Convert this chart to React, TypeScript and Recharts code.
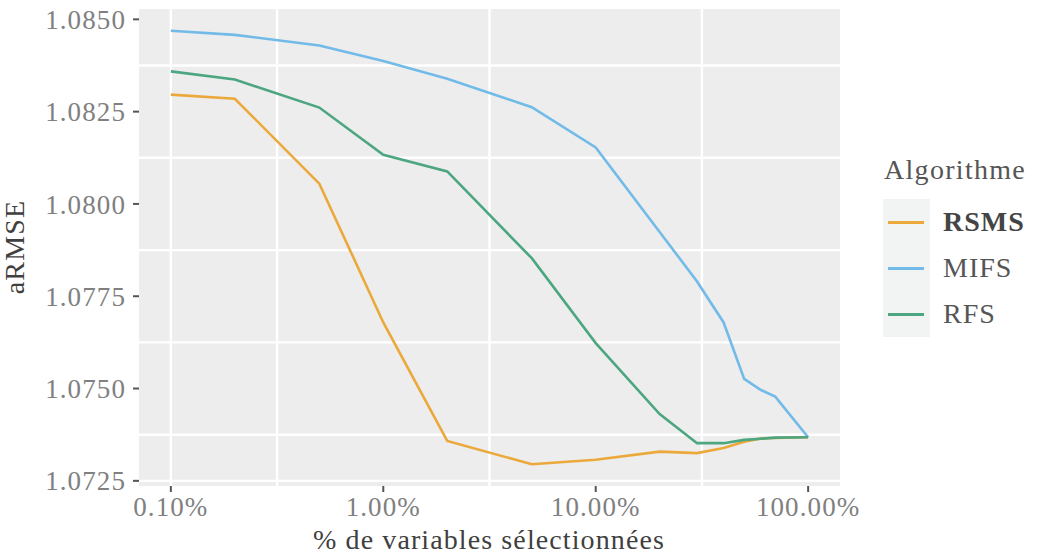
import { LineChart, Line, XAxis, YAxis, CartesianGrid } from "recharts";

// % of selected variables (log x axis)
const pct = [0.1, 0.2, 0.5, 1, 2, 5, 10, 20, 30, 40, 50, 60, 70, 100];

// aRMSE per algorithm
const rsms = [1.08296, 1.08285, 1.08055, 1.07679, 1.07358, 1.07295, 1.07307, 1.07329, 1.07325, 1.07339, 1.07356, 1.07365, 1.07366, 1.07368];
const mifs = [1.08469, 1.08458, 1.08429, 1.08387, 1.08339, 1.08262, 1.08153, 1.07924, 1.0779, 1.07679, 1.07526, 1.07496, 1.07478, 1.07368];
const rfs = [1.08359, 1.08337, 1.08261, 1.08133, 1.08088, 1.07853, 1.07623, 1.07431, 1.07352, 1.07352, 1.07361, 1.07364, 1.07367, 1.07368];

const xTicks = [0.1, 1, 10, 100];
const xMinor = [0.316228, 3.16228, 31.6228];
const yTicks = [1.0725, 1.075, 1.0775, 1.08, 1.0825, 1.085];
const yMinor = [1.07375, 1.07625, 1.07875, 1.08125, 1.08375];

const series = [
  { key: "RSMS", values: rsms, color: "#EBA93B", bold: true },
  { key: "MIFS", values: mifs, color: "#72BBE8", bold: false },
  { key: "RFS", values: rfs, color: "#4CA680", bold: false },
];

const data = pct.map((p, i) => ({
  pct: p,
  RSMS: rsms[i],
  MIFS: mifs[i],
  RFS: rfs[i],
}));

const FONT = '"Liberation Serif", "DejaVu Serif", serif';
const tickStyle = { fontSize: 27, fill: "#808080", fontFamily: FONT, letterSpacing: 1.1 };

export default function App() {
  return (
    <div style={{ position: "absolute", left: 0, top: 0, width: 1038, height: 556, background: "#fff", fontFamily: FONT }}>
      <LineChart width={1038} height={556} data={data} margin={{ top: 9, right: 198, bottom: 40, left: 0 }}>
        <CartesianGrid
          fill="#ededed"
          stroke="#ffffff"
          strokeWidth={2.4}
          horizontalValues={[...yTicks, ...yMinor]}
          verticalValues={[...xTicks, ...xMinor]}
        />
        <XAxis
          dataKey="pct"
          type="number"
          scale="log"
          domain={[0.0708, 141.25]}
          allowDataOverflow
          ticks={xTicks}
          tickFormatter={(v: number) => v.toFixed(2) + "%"}
          axisLine={false}
          tickLine={{ stroke: "#555", strokeWidth: 2 }}
          tickSize={6}
          tickMargin={5}
          height={30}
          tick={tickStyle}
        />
        <YAxis
          type="number"
          domain={[1.07236, 1.08528]}
          allowDataOverflow
          ticks={yTicks}
          tickFormatter={(v: number) => v.toFixed(4)}
          axisLine={false}
          tickLine={{ stroke: "#555", strokeWidth: 2 }}
          tickSize={6}
          tickMargin={7}
          width={139}
          tick={tickStyle}
        />
        {series.map((s) => (
          <Line
            key={s.key}
            dataKey={s.key}
            type="linear"
            stroke={s.color}
            strokeWidth={2.6}
            dot={false}
            isAnimationActive={false}
          />
        ))}
      </LineChart>

      {/* axis titles */}
      <div
        style={{
          position: "absolute",
          left: 15,
          top: 247,
          transform: "translate(-50%, -50%) rotate(-90deg)",
          fontSize: 28,
          letterSpacing: 1.2,
          color: "#404040",
          whiteSpace: "nowrap",
        }}
      >
        aRMSE
      </div>
      <div
        style={{
          position: "absolute",
          left: 489,
          top: 540,
          transform: "translate(-50%, -50%)",
          fontSize: 28,
          letterSpacing: 1.1,
          color: "#404040",
          whiteSpace: "nowrap",
        }}
      >
        % de variables sélectionnées
      </div>

      {/* legend */}
      <div style={{ position: "absolute", left: 884, top: 154, fontSize: 28, letterSpacing: 1.3, color: "#555", whiteSpace: "nowrap" }}>
        Algorithme
      </div>
      <div style={{ position: "absolute", left: 883, top: 199, width: 47, height: 138, background: "#f2f3f3" }} />
      {series.map((s, i) => (
        <div key={s.key}>
          <div
            style={{
              position: "absolute",
              left: 888,
              top: 221 + i * 46,
              width: 36,
              height: 3,
              background: s.color,
            }}
          />
          <div
            style={{
              position: "absolute",
              left: 943,
              top: 222 + i * 46,
              transform: "translateY(-50%)",
              fontSize: 28,
              letterSpacing: 1,
              fontWeight: s.bold ? "bold" : "normal",
              color: s.bold ? "#444" : "#555",
              whiteSpace: "nowrap",
            }}
          >
            {s.key}
          </div>
        </div>
      ))}
    </div>
  );
}
